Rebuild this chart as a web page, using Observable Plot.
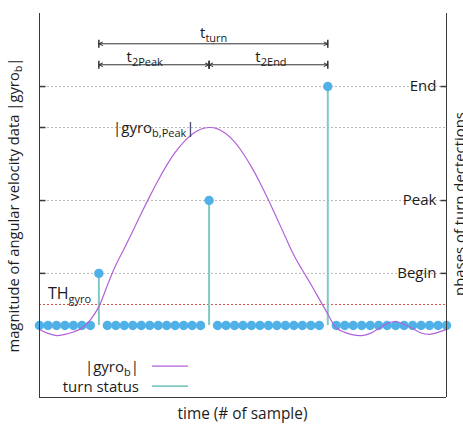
<!DOCTYPE html>
<html><head><meta charset="utf-8">
<script src="https://cdn.jsdelivr.net/npm/d3@7"></script>
<script src="https://cdn.jsdelivr.net/npm/@observablehq/plot@0.6"></script>
<style>
html,body{margin:0;padding:0;background:#fff;}
#chart svg{display:block;}
</style></head>
<body><div id="chart"></div>
<script>
// ---- data ----
const sampleIndex = d3.range(49);
const gyroMagnitude = [-2.0, -4.0, -5.1, -4.5, -3.3, -1.3, 2.8, 9.5, 20.2, 30.5, 38.9, 47.7, 56.6, 65.2, 73.4, 80.9, 87.4, 92.6, 96.6, 99.1, 100, 99.3, 96.8, 92.7, 87.0, 80.1, 72.1, 63.4, 54.1, 44.7, 35.5, 28.0, 20.8, 13.3, 5.8, -1.3, -3.5, -4.8, -5.1, -4.0, -1.5, 1.0, 2.0, 0.5, -1.5, -3.8, -4.5, -3.5, -2.0];
const phaseNames = ["Begin", "Peak", "End"];
const phaseLevels = [26.3, 63.1, 120.7];
const phaseSample = [7, 20, 34];
const leftTicks = [26.3, 63.1, 100, 120.7];
const thresholdGyro = 10.6;
const yMin = -36.4, yMax = 157.6;
const xMin = 0, xMax = 48;
// arrow annotations
const spanNames = ["turn", "2Peak", "2End"];
const spanFrom = [7, 7, 20];
const spanTo = [34, 20, 34];
const spanLevel = [142.3, 131.7, 131.7];
const spanLabelX = [20.6, 12.47, 27.36];
const spanLabelY = [145.2, 133, 133];

const colors = {gyro: "#b262d8", status: "#7fc9c2", statusLegend: "#4fb5aa", dot: "#4fb1e8", grid: "#b8b8b8", th: "#d9534f", ink: "#1c1c1c", axis: "#3a3a3a"};

// ---- derived tables ----
const statusAt = sampleIndex.map(i => { const k = phaseSample.indexOf(i); return k < 0 ? 0 : phaseLevels[k]; });
const samples = sampleIndex.map(i => ({i, gyro: gyroMagnitude[i], status: statusAt[i]}));
const events = phaseSample.map((s, k) => ({i: s, level: phaseLevels[k], name: phaseNames[k]}));
const arrows = [];
const bars = [];
spanFrom.forEach((a, k) => {
  const b = spanTo[k], m = (a + b) / 2, y = spanLevel[k];
  arrows.push({x1: m, x2: a, y}, {x1: m, x2: b, y});
  bars.push({x: a, y}, {x: b, y});
});

const vbar = {draw(ctx) { ctx.moveTo(0, -4); ctx.lineTo(0, 4); }};
const tickL = {draw(ctx) { ctx.moveTo(0, 0); ctx.lineTo(6, 0); }};
const tickR = {draw(ctx) { ctx.moveTo(0, 0); ctx.lineTo(-6, 0); }};

const chart = Plot.plot({
  width: 463, height: 427,
  marginLeft: 39, marginRight: 17, marginTop: 13, marginBottom: 30,
  x: {domain: [xMin, xMax], axis: null},
  y: {domain: [yMin, yMax], axis: null},
  style: {fontFamily: "'Open Sans', sans-serif", fontSize: "15px", background: "white", color: colors.ink},
  marks: [
    Plot.ruleY(leftTicks, {stroke: colors.grid, strokeDasharray: "2,2"}),
    Plot.ruleY([thresholdGyro], {stroke: colors.th, strokeDasharray: "2,2"}),
    Plot.ruleX(events, {x: "i", y1: 0, y2: "level", stroke: colors.status, strokeWidth: 2}),
    Plot.dot(samples, {x: "i", y: "status", r: 4.7, fill: colors.dot}),
    Plot.line(samples, {x: "i", y: "gyro", stroke: colors.gyro, strokeWidth: 1.2, curve: "catmull-rom"}),
    Plot.ruleX([xMin, xMax], {stroke: colors.axis}),
    Plot.ruleY([yMin], {stroke: colors.axis}),
    Plot.dot(leftTicks, {y: d => d, frameAnchor: "left", symbol: tickL, stroke: colors.axis, fill: "none"}),
    Plot.dot(phaseLevels, {y: d => d, frameAnchor: "right", symbol: tickR, stroke: colors.axis, fill: "none"}),
    Plot.text(events, {y: "level", text: "name", frameAnchor: "right", textAnchor: "end", dx: -10, fontSize: 15, fill: colors.ink}),
    Plot.arrow(arrows, {x1: "x1", x2: "x2", y1: "y", y2: "y", stroke: "#333", strokeWidth: 1, headLength: 6, headAngle: 50}),
    Plot.dot(bars, {x: "x", y: "y", symbol: vbar, stroke: "#333", fill: "none"})
  ]
});
document.getElementById("chart").appendChild(chart);

// ---- rich text (with subscripts) ----
const sx = chart.scale("x"), sy = chart.scale("y");
const svg = d3.select(chart);
const g = svg.append("g").attr("fill", colors.ink).attr("font-family", "'Open Sans', sans-serif");
function draw(x, y, parts, anchor, rotate, size, subSize, shift) {
  const t = g.append("text").attr("text-anchor", anchor).attr("font-size", size)
    .attr("transform", `translate(${x},${y})` + (rotate ? ` rotate(${rotate})` : ""));
  let cur = 0;
  for (const [s, sub] of parts) {
    const ts = t.append("tspan").text(s);
    const target = sub ? shift : 0;
    if (target !== cur) ts.attr("dy", target - cur);
    if (sub) ts.attr("font-size", subSize);
    cur = target;
  }
  return t;
}
function rich(x, y, parts, {anchor = "start", rotate = 0, size = 15, subSize = 11, shift = 4, fit = null} = {}) {
  let t = draw(x, y, parts, anchor, rotate, size, subSize, shift);
  if (fit) {
    const len = t.node().getComputedTextLength();
    if (len > 0) {
      const k = fit / len;
      t.remove();
      t = draw(x, y, parts, anchor, rotate, size * k, subSize * k, shift * k);
    }
  }
  return t;
}
spanNames.forEach((n, k) => rich(sx.apply(spanLabelX[k]), sy.apply(spanLabelY[k]), [["t"], [n, 1]], {anchor: "middle"}));
rich(sx.apply(8.73), sy.apply(97), [["|gyro"], ["b,Peak", 1], ["|"]]);
rich(sx.apply(1.06), sy.apply(13.1), [["TH"], ["gyro", 1]], {size: 16});
const fx0 = 39, fx1 = 446, fy0 = 13, fy1 = 397;
rich(18.5, (fy0 + fy1) / 2, [["magnitude of angular velocity data |gyro"], ["b", 1], ["|"]], {anchor: "middle", rotate: -90, fit: 295});
rich(465, (fy0 + fy1) / 2 - 1, [["phases of turn dectections"]], {anchor: "middle", rotate: -90, fit: 184});
rich((fx0 + fx1) / 2, 419, [["time (# of sample)"]], {anchor: "middle", fit: 130});
// legend
const legendItems = [
  {parts: [["|gyro"], ["b", 1], ["|"]], color: colors.gyro},
  {parts: [["turn status"]], color: colors.statusLegend}
];
legendItems.forEach((d, k) => {
  const by = 371.7 + k * 20;
  rich(139, by, d.parts, {anchor: "end"});
  g.append("line").attr("x1", 152).attr("x2", 188).attr("y1", by - 5.5).attr("y2", by - 5.5)
    .attr("stroke", d.color).attr("stroke-width", 1.2);
});
</script>
</body></html>
